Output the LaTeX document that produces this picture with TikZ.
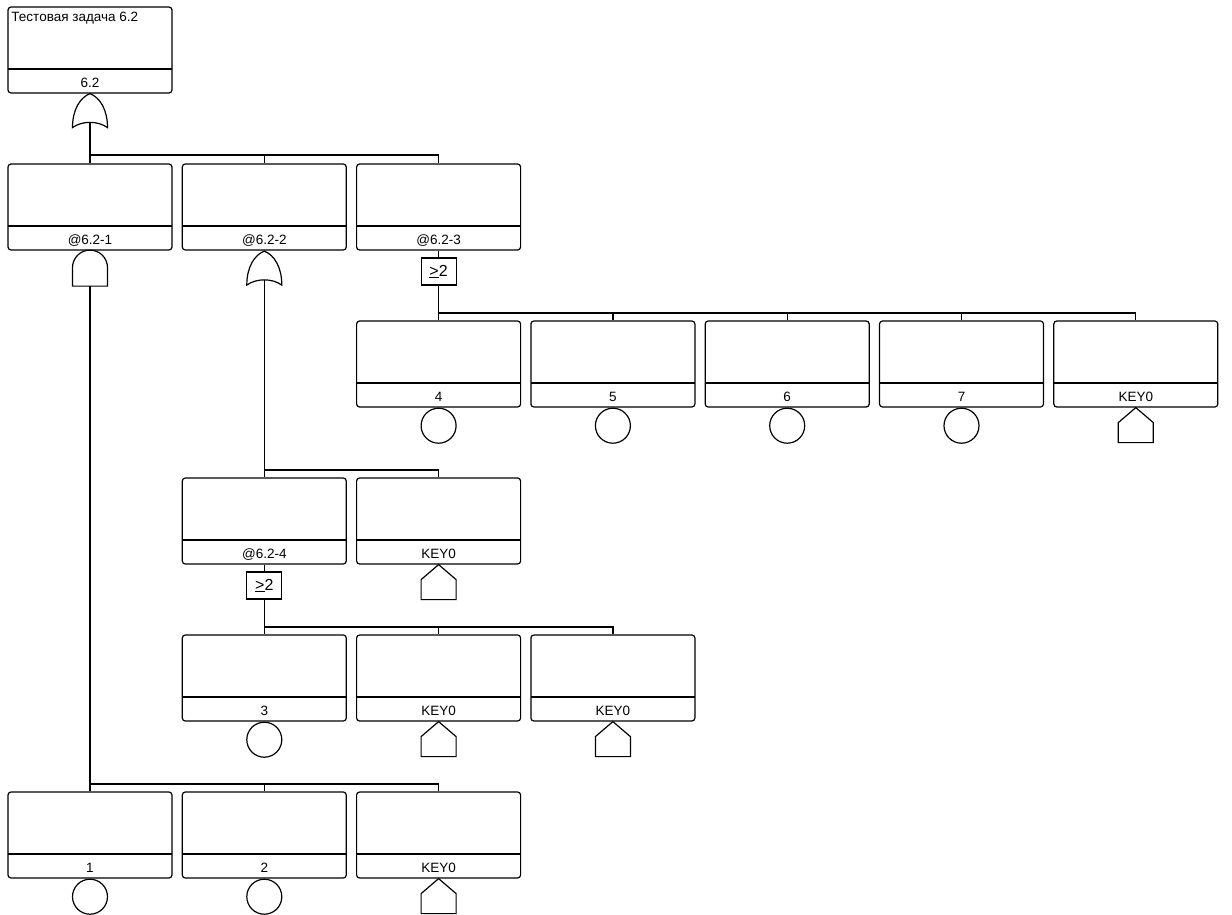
\documentclass[tikz,border=0pt]{standalone}
\usepackage{fontspec}
\setmainfont{Liberation Sans}
\begin{document}
\begin{tikzpicture}[x=1pt,y=-1pt, line width=1.2pt,
 evbox/.style={draw, rounded corners=3pt, minimum width=164pt, minimum height=86pt, inner sep=0pt,
   path picture={\draw[sharp corners] ([yshift=24pt]path picture bounding box.south west) -- ([yshift=24pt]path picture bounding box.south east);}},
 lbl/.style={font=\fontsize{13.5}{15}\selectfont, inner sep=0pt, anchor=base},
 basic/.style={draw, circle, minimum size=35pt, inner sep=0pt, anchor=north},
 vote/.style={draw, minimum width=35pt, minimum height=27pt, inner sep=0pt, font=\fontsize{16}{18}\selectfont},
 orgate/.pic={\draw (0,0) .. controls (-10,4) and (-17.5,16) .. (-17.5,34) .. controls (-8,27) and (8,27) .. (17.5,34) .. controls (17.5,16) and (10,4) .. (0,0) -- cycle;},
 andgate/.pic={\draw (-17.5,36) -- (-17.5,17.5) arc (180:360:17.5) -- (17.5,36) -- cycle;},
 house/.pic={\draw (0,0) -- (-17.5,15) -- (-17.5,35) -- (17.5,35) -- (17.5,15) -- cycle;}]
\useasboundingbox (0,0) rectangle (1232,915);
\def\cA{90}\def\cB{264.3}\def\cC{438.6}\def\cD{612.9}\def\cE{787.2}\def\cF{961.5}\def\cG{1135.8}
% level 0
\node[evbox] (b0) at (\cA,50) {};
\node[lbl] (l0) at ([yshift=6pt]b0.south) {6.2};
\node[font=\fontsize{13.5}{15}\selectfont, inner sep=0pt, anchor=base west] (t0) at ([xshift=3.5pt,yshift=-15pt]b0.north west) {Тестовая задача 6.2};
\pic at (b0.south) {orgate};
\coordinate (g0) at (\cA,122);
\coordinate (s0) at (\cA,155);
% level 1
\node[evbox] (b1) at (\cA,207) {};
\node[lbl] (l1) at ([yshift=6pt]b1.south) {@6.2-1};
\node[evbox] (b2) at (\cB,207) {};
\node[lbl] (l2) at ([yshift=6pt]b2.south) {@6.2-2};
\node[evbox] (b3) at (\cC,207) {};
\node[lbl] (l3) at ([yshift=6pt]b3.south) {@6.2-3};
\draw (g0) -- (b1.north);
\draw (s0) -| (b2.north);
\draw (s0) -| (b3.north);
% gates under level 1
\pic at ([yshift=0.5pt]b1.south) {andgate};
\coordinate (g1) at (\cA,286);
\pic at ([yshift=-0.5pt]b2.south) {orgate};
\coordinate (g2) at (\cB,280);
\node[vote] (v1) at (\cC,271.5) {\underline{>}2};
\draw (b3.south) -- (v1.north);
\coordinate (s1) at (\cC,313);
% level 2
\node[evbox] (b4) at (\cC,364) {};
\node[lbl] (l4) at ([yshift=6pt]b4.south) {4};
\node[evbox] (b5) at (\cD,364) {};
\node[lbl] (l5) at ([yshift=6pt]b5.south) {5};
\node[evbox] (b6) at (\cE,364) {};
\node[lbl] (l6) at ([yshift=6pt]b6.south) {6};
\node[evbox] (b7) at (\cF,364) {};
\node[lbl] (l7) at ([yshift=6pt]b7.south) {7};
\node[evbox] (b8) at (\cG,364) {};
\node[lbl] (l8) at ([yshift=6pt]b8.south) {KEY0};
\draw (v1.south) -- (b4.north);
\draw (s1) -| (b5.north);
\draw (s1) -| (b6.north);
\draw (s1) -| (b7.north);
\draw (s1) -| (b8.north);
\node[basic] (e4) at (b4.south) {};
\node[basic] (e5) at (b5.south) {};
\node[basic] (e6) at (b6.south) {};
\node[basic] (e7) at (b7.south) {};
\pic at (b8.south) {house};
% level 3
\coordinate (s2) at (\cB,470);
\node[evbox] (b9) at (\cB,521) {};
\node[lbl] (l9) at ([yshift=6pt]b9.south) {@6.2-4};
\node[evbox] (b10) at (\cC,521) {};
\node[lbl] (l10) at ([yshift=6pt]b10.south) {KEY0};
\draw (g2) -- (b9.north);
\draw (s2) -| (b10.north);
\pic at (b10.south) {house};
\node[vote] (v2) at (\cB,585.5) {\underline{>}2};
\draw (b9.south) -- (v2.north);
\coordinate (s3) at (\cB,627);
% level 4
\node[evbox] (b11) at (\cB,678) {};
\node[lbl] (l11) at ([yshift=6pt]b11.south) {3};
\node[evbox] (b12) at (\cC,678) {};
\node[lbl] (l12) at ([yshift=6pt]b12.south) {KEY0};
\node[evbox] (b13) at (\cD,678) {};
\node[lbl] (l13) at ([yshift=6pt]b13.south) {KEY0};
\draw (v2.south) -- (b11.north);
\draw (s3) -| (b12.north);
\draw (s3) -| (b13.north);
\node[basic] (e11) at (b11.south) {};
\pic at (b12.south) {house};
\pic at (b13.south) {house};
% level 5
\coordinate (s4) at (\cA,784);
\node[evbox] (b14) at (\cA,835) {};
\node[lbl] (l14) at ([yshift=6pt]b14.south) {1};
\node[evbox] (b15) at (\cB,835) {};
\node[lbl] (l15) at ([yshift=6pt]b15.south) {2};
\node[evbox] (b16) at (\cC,835) {};
\node[lbl] (l16) at ([yshift=6pt]b16.south) {KEY0};
\draw (g1) -- (b14.north);
\draw (s4) -| (b15.north);
\draw (s4) -| (b16.north);
\node[basic] (e14) at (b14.south) {};
\node[basic] (e15) at (b15.south) {};
\pic at (b16.south) {house};
\end{tikzpicture}
\end{document}
